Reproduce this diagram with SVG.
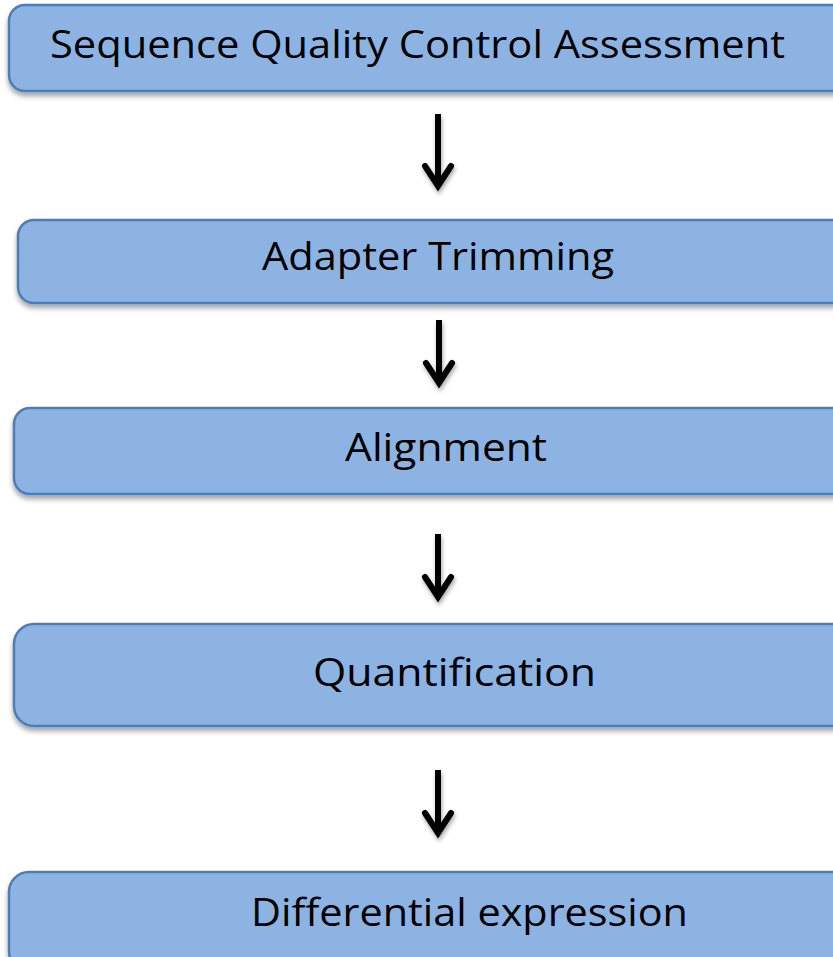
<svg xmlns="http://www.w3.org/2000/svg" width="833" height="957" viewBox="0 0 833 957">
<defs>
<filter id="sh" x="-5%" y="-20%" width="110%" height="150%">
<feDropShadow dx="0" dy="4" stdDeviation="2.5" flood-color="#000" flood-opacity="0.35"/>
</filter>
<filter id="ash" x="-50%" y="-20%" width="200%" height="150%">
<feDropShadow dx="1" dy="3" stdDeviation="2" flood-color="#000" flood-opacity="0.35"/>
</filter>
</defs>
<style>
.box{fill:#8db3e2;stroke:#4a7ebb;stroke-width:2.5}
.lbl{font-family:"Open Sans","Liberation Sans",sans-serif;font-size:38px;fill:#000}
.shaft{stroke:#000;stroke-width:6;fill:none}
.head{stroke:#000;stroke-width:6;fill:none;stroke-linecap:round;stroke-linejoin:miter}
</style>
<rect x="0" y="0" width="833" height="957" fill="#fff"/>
<g id="n1">
<rect class="box" filter="url(#sh)" x="9" y="5" width="850" height="86" rx="16"/>
<text class="lbl" x="50" y="58" textLength="735" lengthAdjust="spacingAndGlyphs">Sequence Quality Control Assessment</text>
</g>
<g id="n2">
<rect class="box" filter="url(#sh)" x="18" y="220" width="850" height="83" rx="16"/>
<text class="lbl" x="262" y="270" textLength="352" lengthAdjust="spacingAndGlyphs">Adapter Trimming</text>
</g>
<g id="n3">
<rect class="box" filter="url(#sh)" x="14" y="408" width="850" height="86" rx="16"/>
<text class="lbl" x="345" y="461" textLength="202" lengthAdjust="spacingAndGlyphs">Alignment</text>
</g>
<g id="n4">
<rect class="box" filter="url(#sh)" x="14" y="624" width="850" height="102" rx="20"/>
<text class="lbl" x="313" y="686" textLength="283" lengthAdjust="spacingAndGlyphs">Quantification</text>
</g>
<g id="n5">
<rect class="box" filter="url(#sh)" x="9" y="872" width="850" height="100" rx="20"/>
<text class="lbl" x="251" y="926" textLength="437" lengthAdjust="spacingAndGlyphs">Differential expression</text>
</g>
<g id="connectors" filter="url(#ash)">
<line class="shaft" x1="438" y1="114" x2="438" y2="186"/>
<polyline class="head" points="425,166 438,186 451,166"/>
<line class="shaft" x1="439" y1="320" x2="439" y2="383"/>
<polyline class="head" points="426,363 439,383 452,363"/>
<line class="shaft" x1="438" y1="534" x2="438" y2="597"/>
<polyline class="head" points="425,577 438,597 451,577"/>
<line class="shaft" x1="438" y1="770" x2="438" y2="833"/>
<polyline class="head" points="425,813 438,833 451,813"/>
</g>
</svg>
